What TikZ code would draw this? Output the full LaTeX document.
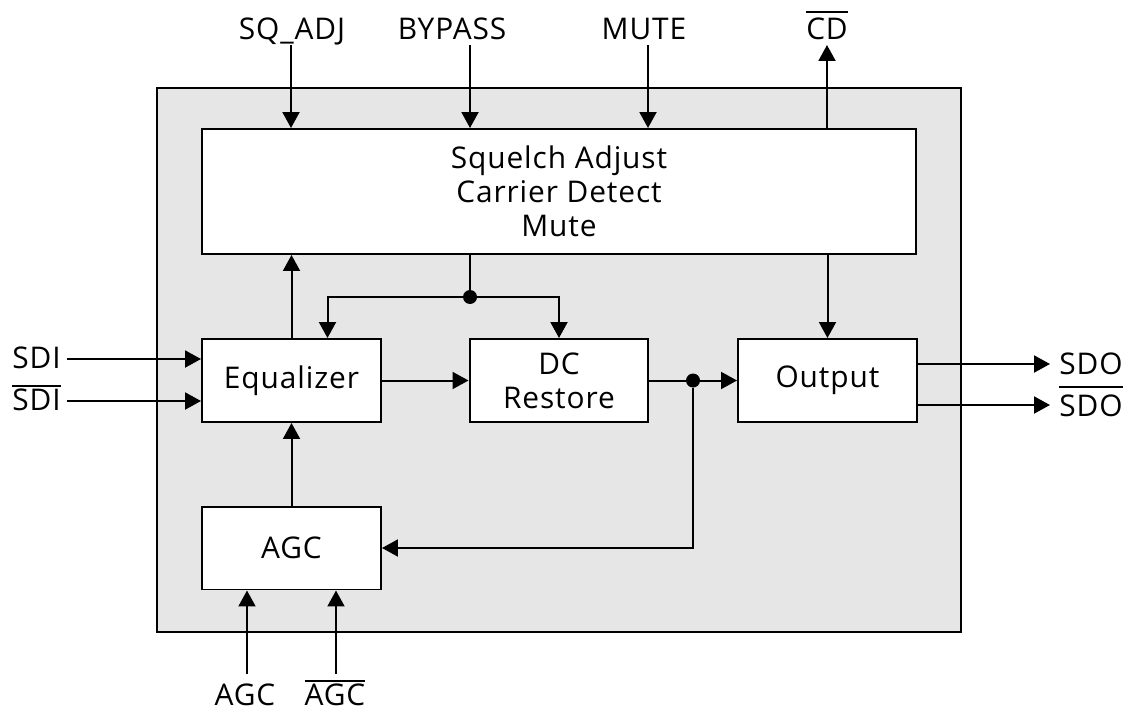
\documentclass[tikz,border=0pt]{standalone}
\usepackage{fontspec}
\setmainfont{Open Sans}[LetterSpace=3]
\usepackage{xcolor}
\definecolor{chipgray}{RGB}{230,230,230}
\usepackage{tikz}
\usetikzlibrary{calc}
\usetikzlibrary{arrows.meta}
\newsavebox{\negbox}
\newcommand{\negated}[2][13pt]{\sbox{\negbox}{#2}\rlap{\rule[#1]{\wd\negbox}{1.1pt}}\usebox{\negbox}}
\newcommand{\widthblock}{3.58cm}
\newcommand{\heightblock}{1.66cm}
\newcommand{\widthcontrol}{14.28cm}
\newcommand{\heightcontrol}{2.5cm}
\tikzset{
    common/.style={draw, rectangle, line width=0.04cm, fill=white, align=center},
    block/.style={common, minimum width=\widthblock, minimum height=\heightblock},
    control/.style={common, minimum width=\widthcontrol, minimum height=\heightcontrol},
    pin/.style={inner sep=0pt, anchor=base},
    wire/.style={line width=0.04cm},
    signal/.style={wire, -{Triangle[length=0.32cm, width=0.34cm]}},
    junction/.style={circle, fill, inner sep=0pt, minimum size=0.28cm}
}

\begin{document}
\begin{tikzpicture}[x=0.02cm, y=-0.02cm, font=\fontsize{17pt}{19.4pt}\selectfont]
              \useasboundingbox (0,0) rectangle (1139,710);
              \draw[wire, fill=chipgray] (157,88) rectangle (961,632);

              \node[control] (squelch) at (559,191.5) {Squelch Adjust\\Carrier Detect\\Mute};
              \node[block] (equalizer) at (291.5,380.5) {Equalizer};
              \node[block] (dc-restore) at (559,380.5) {DC\\Restore};
              \node[block] (output) at (827.5,380.5) {Output};
              \node[block] (agc) at (291.5,548) {AGC};

              \node[pin] (sq-adj) at (292,39) {SQ\_ADJ};
              \node[pin] (bypass) at (452,39) {BYPASS};
              \node[pin] (mute) at (644,39) {MUTE};
              \node[pin] (cd) at (827,39) {\negated[15pt]{CD}};
              \node[pin, anchor=base west] (sdi) at (12,368) {SDI};
              \node[pin, anchor=base west] (sdi-n) at (12,410) {\negated{SDI}};
              \node[pin, anchor=base west] (sdo) at (1059,374) {SDO};
              \node[pin, anchor=base west] (sdo-n) at (1059,416) {\negated[16pt]{SDO}};
              \node[pin] (agc-in) at (245,705) {AGC};
              \node[pin] (agc-n-in) at (335,705) {\negated{AGC}};

              \path (291,45) coordinate (sq-adj-pin)
                  ++(179,0) coordinate (bypass-pin)
                  ++(178,0) coordinate (mute-pin)
                  ++(179,0) coordinate (cd-pin);
              \path (67,359) coordinate (sdi-pin)
                  ++(0,42) coordinate (sdi-n-pin);
              \path (1050,364) coordinate (sdo-pin)
                  ++(0,41) coordinate (sdo-n-pin);
              \path (247,674) coordinate (agc-pin)
                  ++(89,0) coordinate (agc-n-pin);

              \node[junction] (split) at (470,297) {};
              \node[junction] (tap) at (693,380.5) {};

              \draw[signal] (sq-adj-pin) -- (sq-adj-pin |- squelch.north);
              \draw[signal] (bypass-pin) -- (bypass-pin |- squelch.north);
              \draw[signal] (mute-pin) -- (mute-pin |- squelch.north);
              \draw[signal] (cd-pin |- squelch.north) -- (cd-pin);

              \draw[signal] (equalizer.north) -- (equalizer.north |- squelch.south);
              \draw[wire] (split |- squelch.south) -- (split);
              \draw[signal] (split) -| ($(equalizer.north)+(36,0)$);
              \draw[signal] (split) -| (dc-restore.north);
              \draw[signal] (output.north |- squelch.south) -- (output.north);

              \draw[signal] (sdi-pin) -- (sdi-pin -| equalizer.west);
              \draw[signal] (sdi-n-pin) -- (sdi-n-pin -| equalizer.west);
              \draw[signal] (equalizer) -- (dc-restore);
              \draw[wire] (dc-restore) -- (tap);
              \draw[signal] (tap) -- (output);
              \draw[signal] (tap) |- (agc);
              \draw[signal] (agc) -- (equalizer);
              \draw[signal] (agc-pin) -- (agc-pin |- agc.south);
              \draw[signal] (agc-n-pin) -- (agc-n-pin |- agc.south);
              \draw[signal] (sdo-pin -| output.east) -- (sdo-pin);
              \draw[signal] (sdo-n-pin -| output.east) -- (sdo-n-pin);
          \end{tikzpicture}
\end{document}
